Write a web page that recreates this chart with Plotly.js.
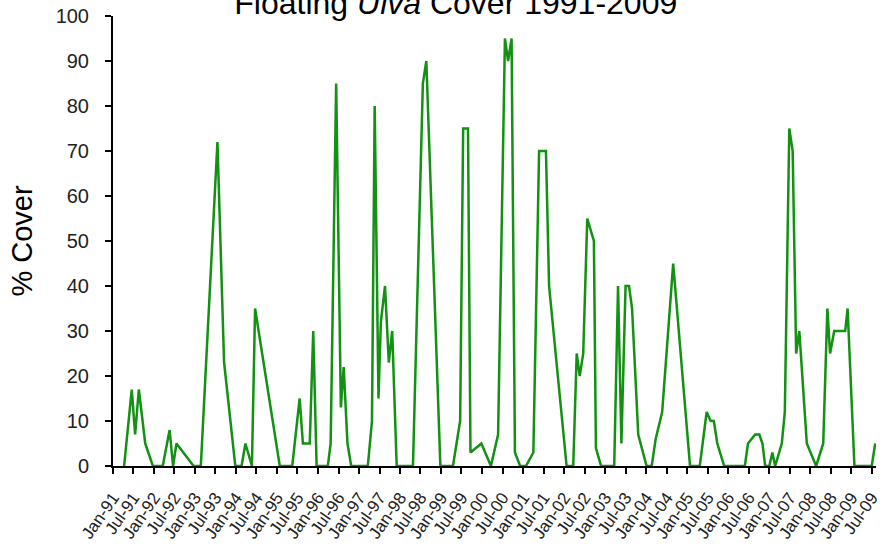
<!DOCTYPE html>
<html>
<head>
<meta charset="utf-8">
<script src="https://cdn.plot.ly/plotly-3.0.1.min.js"></script>
<style>html,body{margin:0;padding:0;background:#fff;}#chart{width:885px;height:549px;}</style>
</head>
<body>
<div id="chart"></div>
<script>
// Sample dates
const sampleDates = [
  "1991-04-10","1991-06-17","1991-07-17","1991-08-19","1991-10-15","1991-12-22",
  "1992-03-19","1992-05-19","1992-06-19","1992-07-19","1992-12-19",
  "1993-02-21","1993-07-19","1993-09-16","1993-12-25",
  "1994-02-19","1994-03-25","1994-05-22","1994-06-19",
  "1995-01-25","1995-05-16","1995-07-21","1995-08-19","1995-10-19","1995-11-19","1995-12-19",
  "1996-03-28","1996-04-22","1996-06-10","1996-07-22","1996-08-16","1996-09-19","1996-10-22",
  "1997-03-19","1997-04-25","1997-05-19","1997-06-22","1997-07-13","1997-08-19","1997-09-22","1997-10-22","1997-12-01",
  "1998-04-25","1998-07-22","1998-08-22","1998-12-25",
  "1999-04-16","1999-06-19","1999-07-16","1999-08-28","1999-09-19","1999-12-25",
  "2000-03-19","2000-05-22","2000-07-22","2000-08-19","2000-09-19","2000-10-19","2000-12-04",
  "2001-01-25","2001-04-01","2001-05-22","2001-07-22","2001-08-19",
  "2002-01-22","2002-03-22","2002-04-22","2002-05-19","2002-06-19","2002-07-25","2002-09-22","2002-10-10","2002-11-25",
  "2003-03-22","2003-04-25","2003-05-25","2003-07-01","2003-08-01","2003-08-28","2003-10-22",
  "2004-01-04","2004-02-19","2004-03-25","2004-05-22","2004-08-28",
  "2005-01-25","2005-04-22","2005-06-22","2005-07-28","2005-08-25","2005-09-25","2005-11-25",
  "2006-05-28","2006-06-25","2006-08-28","2006-10-04","2006-11-01","2006-11-25",
  "2007-01-01","2007-01-28","2007-02-22","2007-04-22","2007-05-19","2007-06-28","2007-07-28","2007-08-28","2007-09-25","2007-12-01",
  "2008-02-22","2008-04-25","2008-06-01","2008-06-25","2008-08-01","2008-11-07","2008-11-28",
  "2009-01-28","2009-07-01","2009-08-01"
];
// Percent cover of floating Ulva
const coverValues = [
  0,17,7,17,5,0,
  0,8,0,5,0,
  0,72,23,0,
  0,5,0,35,
  0,0,15,5,5,30,0,
  0,5,85,13,22,5,0,
  0,10,80,15,32,40,23,30,0,
  0,85,90,0,
  0,10,75,75,3,5,
  0,7,95,90,95,3,0,
  0,3,70,70,40,
  0,0,25,20,25,55,50,4,0,
  0,40,5,40,40,35,7,
  0,0,6,12,45,
  0,0,12,10,10,5,0,
  0,5,7,7,5,0,
  0,3,0,5,12,75,70,25,30,5,
  0,5,35,25,30,30,35,
  0,0,5
];
// X-axis tick labels (every six months)
const tickLabels = [
  "Jan-91","Jul-91","Jan-92","Jul-92","Jan-93","Jul-93","Jan-94","Jul-94",
  "Jan-95","Jul-95","Jan-96","Jul-96","Jan-97","Jul-97","Jan-98","Jul-98",
  "Jan-99","Jul-99","Jan-00","Jul-00","Jan-01","Jul-01","Jan-02","Jul-02",
  "Jan-03","Jul-03","Jan-04","Jul-04","Jan-05","Jul-05","Jan-06","Jul-06",
  "Jan-07","Jul-07","Jan-08","Jul-08","Jan-09","Jul-09"
];

function labelToDate(lbl) {
  const mon = lbl.slice(0, 3) === "Jan" ? "01" : "07";
  const yy = parseInt(lbl.slice(4), 10);
  const year = yy > 50 ? 1900 + yy : 2000 + yy;
  return year + "-" + mon + "-01";
}
const tickVals = tickLabels.map(labelToDate);

const FONT = "Liberation Sans, Arial, sans-serif";

const trace = {
  type: "scatter",
  mode: "lines",
  x: sampleDates,
  y: coverValues,
  line: { color: "#129112", width: 2.5 },
  hoverinfo: "skip"
};

const layout = {
  width: 885,
  height: 549,
  margin: { l: 113, r: 9, t: 16, b: 83 },
  paper_bgcolor: "#ffffff",
  plot_bgcolor: "#ffffff",
  showlegend: false,
  font: { family: FONT, color: "#000" },
  title: {
    text: "Floating <i>Ulva</i> Cover 1991-2009",
    font: { family: FONT, size: 32, color: "#000" },
    x: 0.515, xref: "container", xanchor: "center",
    y: 0.975, yref: "container", yanchor: "bottom"
  },
  xaxis: {
    type: "date",
    range: ["1991-01-01", "2009-08-08"],
    tickmode: "array",
    tickvals: tickVals,
    ticktext: tickLabels,
    tickangle: -55,
    tickfont: { family: FONT, size: 17, color: "#222" },
    ticks: "outside",
    ticklen: 6,
    tickwidth: 2,
    tickcolor: "#000",
    ticklabelstandoff: 7,
    showline: true,
    linecolor: "#000",
    linewidth: 2,
    showgrid: false,
    zeroline: false,
    fixedrange: true
  },
  yaxis: {
    range: [0, 100],
    tickmode: "linear",
    tick0: 0,
    dtick: 10,
    tickfont: { family: FONT, size: 20, color: "#222" },
    ticks: "outside",
    ticklen: 6,
    tickwidth: 2,
    tickcolor: "#000",
    ticklabelstandoff: 12,
    showline: true,
    linecolor: "#000",
    linewidth: 2,
    showgrid: false,
    zeroline: false,
    title: { text: "% Cover", font: { family: FONT, size: 29, color: "#000" }, standoff: 14 },
    fixedrange: true
  }
};

Plotly.newPlot("chart", [trace], layout, { staticPlot: true, displayModeBar: false });
</script>
</body>
</html>
